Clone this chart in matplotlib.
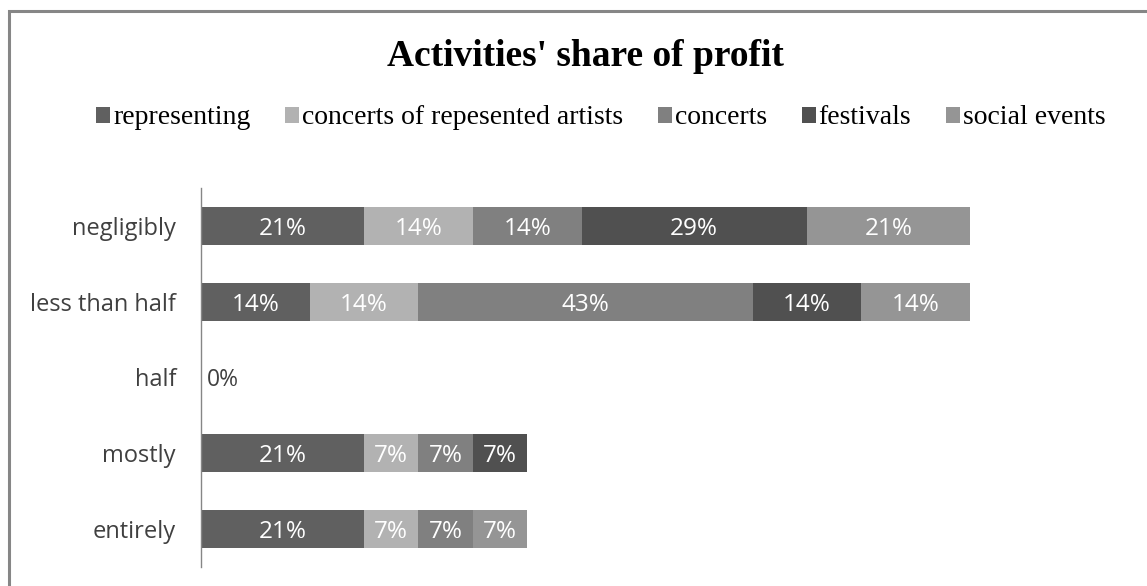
import matplotlib
matplotlib.use("Agg")
import matplotlib.pyplot as plt
from matplotlib.patches import Patch, Rectangle

categories = ["negligibly", "less than half", "half", "mostly", "entirely"]
series_names = ["representing", "concerts of repesented artists", "concerts",
                "festivals", "social events"]
representing = [21, 14, 0, 21, 21]
concerts_of_represented = [14, 14, 0, 7, 7]
concerts = [14, 43, 0, 7, 7]
festivals = [29, 14, 0, 7, 0]
social_events = [21, 14, 0, 0, 7]
series_values = [representing, concerts_of_represented, concerts, festivals, social_events]
colors = ["#606060", "#b2b2b2", "#808080", "#505050", "#959595"]

W, H = 1147, 586
fig = plt.figure(figsize=(W / 100, H / 100), dpi=100)
fig.patch.set_facecolor("white")

# outer chart frame (runs off the right and bottom edges)
fig.add_artist(Rectangle((9 / W, -0.1), 1.2, 1 - 11 / H + 0.1, transform=fig.transFigure,
                         fill=False, edgecolor="#868686", lw=2.2))

ax = fig.add_axes([201 / W, 19 / H, 769 / W, 379 / H])
ypos = list(range(len(categories)))
left = [0] * len(categories)
for name, vals, col in zip(series_names, series_values, colors):
    bars = ax.barh(ypos, vals, left=left, height=0.5, color=col, label=name, linewidth=0)
    for b, v in zip(bars, vals):
        if v > 0:
            ax.text(b.get_x() + b.get_width() / 2, b.get_y() + b.get_height() / 2,
                    f"{v}%", ha="center", va="center_baseline", color="white",
                    fontsize=17.5, family="Open Sans")
    left = [l + v for l, v in zip(left, vals)]

# zero total row gets a single label at the axis
for i, total in enumerate(left):
    if total == 0:
        ax.text(0.8, i, "0%", ha="left", va="center_baseline", color="#404040",
                fontsize=16.5, family="Open Sans")

ax.set_xlim(0, max(left))
ax.set_ylim(len(categories) - 0.5, -0.5)
ax.set_yticks(ypos)
ax.set_yticklabels(categories, family="Open Sans", fontsize=17, color="#404040")
ax.tick_params(axis="y", length=0, pad=18)
ax.set_xticks([])
for s in ["top", "right", "bottom"]:
    ax.spines[s].set_visible(False)
ax.spines["left"].set_color("#868686")
ax.spines["left"].set_linewidth(1)

fig.text(585 / W, 1 - 56 / H, "Activities' share of profit", ha="center", va="center",
         family="Liberation Serif", fontweight="bold", fontsize=27, color="black")

handles = [Patch(facecolor=c, edgecolor="none") for c in colors]
fig.legend(handles, series_names, loc="center", bbox_to_anchor=(601 / W, 1 - 118 / H),
           ncol=5, frameon=False, handlelength=0.5, handleheight=0.5,
           handletextpad=0.1, columnspacing=1.26,
           prop={"family": "Liberation Serif", "size": 20})

fig.savefig("out.png", dpi=100, facecolor="white")
